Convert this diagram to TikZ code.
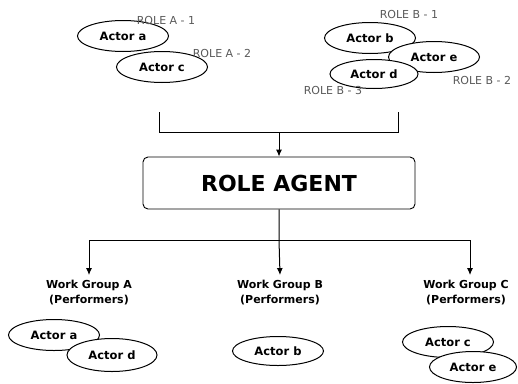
\documentclass[tikz,border=0pt]{standalone}
\usepackage{fontspec}
\setmainfont{DejaVu Sans}
\usepackage{tikz}
\usetikzlibrary{arrows.meta,calc,positioning,shapes.geometric}

\tikzset{
  actor/.style={ellipse,draw,fill=white,line width=1pt,inner sep=0pt,
    minimum width=91pt,minimum height=31pt,font=\fontsize{11.5}{13}\selectfont\bfseries},
  rolelabel/.style={font=\fontsize{11}{12}\selectfont,text=black!65},
  agentbox/.style={draw,rounded corners=5pt,line width=0.9pt,minimum width=272pt,
    minimum height=52pt,font=\fontsize{22}{26}\selectfont\bfseries},
  grouplabel/.style={align=center,font=\fontsize{11}{15}\selectfont\bfseries},
  link/.style={line width=1pt},
  arrowlink/.style={link,-{Latex[length=7pt,width=6pt]}}
}

\begin{document}
\begin{tikzpicture}[x=1pt,y=-1pt]
  \useasboundingbox (0,0) rectangle (518,383);
  % Role A actors
  \node[actor] (ra1) at (123,36) {Actor a};
  \node[actor] (ra2) at (162,67) {Actor c};
  \node[rolelabel] (la1) at (166,20) {ROLE A - 1};
  \node[rolelabel] (la2) at (222,53) {ROLE A - 2};
  % Role B actors
  \node[actor] (rb1) at (370,38) {Actor b};
  \node[actor] (rb2) at (434,57) {Actor e};
  \node[actor,minimum width=88pt,minimum height=29pt] (rb3) at (374,74) {Actor d};
  \node[rolelabel] (lb1) at (409,14) {ROLE B - 1};
  \node[rolelabel] (lb2) at (482,80) {ROLE B - 2};
  \node[rolelabel] (lb3) at (333,90) {ROLE B - 3};
  % Agent and its inputs
  \node[agentbox] (agent) at (279,183) {ROLE AGENT};
  \coordinate (inA) at (159,112);
  \coordinate (inB) at (398,112);
  \coordinate (merge) at (279,132);
  \draw[link] (inA) |- (merge);
  \draw[link] (inB) |- (merge);
  \draw[arrowlink] (merge) -- (agent);
  % Work groups
  \node[grouplabel] (wgA) at (89,293) {Work Group A\\(Performers)};
  \node[grouplabel] (wgB) at (280,293) {Work Group B\\(Performers)};
  \node[grouplabel] (wgC) at (466,293) {Work Group C\\(Performers)};
  \coordinate (split) at (279,240);
  \draw[arrowlink] (agent) -- (split) -- ($(wgB.north)+(0,-2)$);
  \draw[arrowlink] (split) -| ($(wgA.north)+(0,-2)$);
  \draw[arrowlink] (split) -| ($(wgC.north)+(4,-2)$);
  % Performers
  \node[actor] (pa1) at (54,335) {Actor a};
  \node[actor,minimum width=90pt,minimum height=33pt] (pa2) at (112,355) {Actor d};
  \node[actor,minimum height=29pt] (pb1) at (278,351) {Actor b};
  \node[actor] (pc1) at (448,342) {Actor c};
  \node[actor,minimum width=87pt] (pc2) at (473,367) {Actor e};
\end{tikzpicture}
\end{document}
